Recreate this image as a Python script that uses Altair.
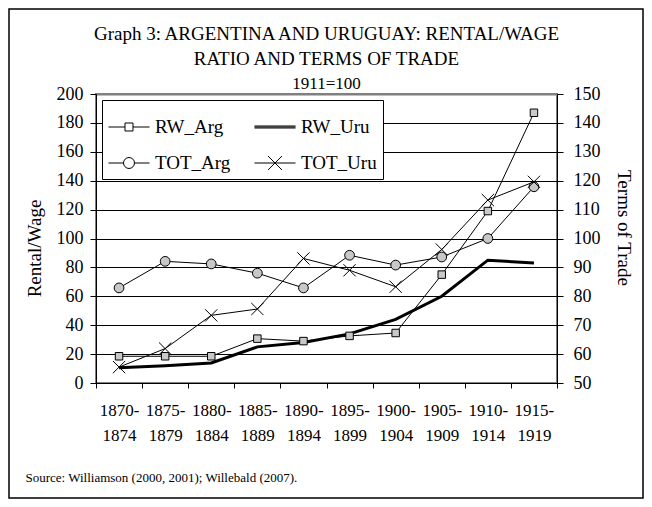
import altair as alt
import pandas as pd

# ---------------- data ----------------
periods = ["1870-1874", "1875-1879", "1880-1884", "1885-1889", "1890-1894",
           "1895-1899", "1900-1904", "1905-1909", "1910-1914", "1915-1919"]
rw_arg = [18.5, 18.5, 18.5, 30.7, 29.0, 32.6, 34.6, 75.0, 119.0, 187.0]
rw_uru = [10.6, 12.0, 13.9, 25.0, 28.0, 34.0, 44.0, 60.0, 85.0, 83.0]
tot_arg = [82.9, 92.1, 91.2, 88.0, 82.9, 94.2, 90.8, 93.6, 100.0, 117.9]
tot_uru = [55.5, 61.9, 73.4, 75.6, 93.1, 89.0, 83.3, 96.2, 113.3, 119.6]
series_names = ["RW_Arg", "RW_Uru", "TOT_Arg", "TOT_Uru"]
left_ticks = [0, 20, 40, 60, 80, 100, 120, 140, 160, 180, 200]
right_ticks = [50, 60, 70, 80, 90, 100, 110, 120, 130, 140, 150]

title_lines = ["Graph 3: ARGENTINA AND URUGUAY: RENTAL/WAGE", "RATIO AND TERMS OF TRADE"]
subtitle = "1911=100"
source_text = "Source:  Williamson (2000, 2001); Willebald (2007)."

FONT = "Liberation Serif, Times New Roman, serif"
BG = "#c8c8c8"

df = pd.DataFrame({
    "period": periods * 4,
    "series": sum([[s] * len(periods) for s in series_names], []),
    "value": rw_arg + rw_uru + tot_arg + tot_uru,
})

x_enc = alt.X(
    "period:N",
    sort=periods,
    scale=alt.Scale(type="band", domain=periods, paddingInner=0, paddingOuter=0),
    axis=alt.Axis(
        title=source_text,
        titleX=-71, titleY=94, titleAlign="left", titleBaseline="middle",
        titleFontSize=13, titleFontWeight="normal", titleFont=FONT, titleColor="black",
        labelAngle=0, labelFontSize=17, labelFont=FONT, labelColor="black",
        labelExpr="[slice(datum.label, 0, 5), slice(datum.label, 5)]",
        labelLineHeight=25, labelPadding=14, labelBaseline="top",
        tickBand="extent", tickSize=5, tickColor="black",
        domainColor="black", grid=False,
    ),
)

y_left = alt.Y(
    "value:Q",
    scale=alt.Scale(domain=[0, 200], nice=False, zero=False),
    axis=alt.Axis(
        title="Rental/Wage", values=left_ticks,
        titleX=-62, titleY=154, titleAngle=270, titleAlign="center", titleBaseline="middle",
        titleFontSize=19, titleFontWeight="normal", titleFont=FONT, titleColor="black",
        labelFontSize=18, labelFont=FONT, labelColor="black", labelPadding=7,
        tickSize=6, tickColor="black", domainColor="black",
        grid=True,
        gridColor=alt.condition("datum.value == 200", alt.value("#808080"), alt.value("black")),
        gridWidth=alt.condition("datum.value == 200", alt.value(2), alt.value(1)),
    ),
)

y_right = alt.Y(
    "value:Q",
    scale=alt.Scale(domain=[50, 150], nice=False, zero=False),
    axis=alt.Axis(
        orient="right", title="Terms of Trade", values=right_ticks,
        titleX=66, titleY=133.5, titleAngle=90, titleAlign="center", titleBaseline="middle",
        titleFontSize=19, titleFontWeight="normal", titleFont=FONT, titleColor="black",
        labelFontSize=18, labelFont=FONT, labelColor="black", labelPadding=10,
        tickSize=6, tickColor="black", domainColor="black", grid=False,
    ),
)

base = alt.Chart(df)

def sel(name):
    return base.transform_filter(alt.datum.series == name)

rw_uru_line = sel("RW_Uru").mark_line(color="black", strokeWidth=3).encode(x=x_enc, y=y_left)
rw_arg_line = sel("RW_Arg").mark_line(color="black", strokeWidth=1).encode(x=x_enc, y=y_left)
rw_arg_pts = sel("RW_Arg").mark_point(shape="square", size=56, filled=True, fill=BG,
                                      stroke="black", strokeWidth=1, opacity=1).encode(x=x_enc, y=y_left)
left = alt.layer(rw_uru_line, rw_arg_line, rw_arg_pts)

tot_arg_line = sel("TOT_Arg").mark_line(color="black", strokeWidth=1).encode(x=x_enc, y=y_right)
tot_arg_pts = sel("TOT_Arg").mark_point(shape="circle", size=95, filled=True, fill=BG,
                                        stroke="black", strokeWidth=1, opacity=1).encode(x=x_enc, y=y_right)
tot_uru_line = sel("TOT_Uru").mark_line(color="black", strokeWidth=1).encode(x=x_enc, y=y_right)
tot_uru_pts = sel("TOT_Uru").mark_point(shape="M-1,-1L1,1M1,-1L-1,1", size=150, filled=False,
                                        stroke="black", strokeWidth=1, opacity=1).encode(x=x_enc, y=y_right)
right = alt.layer(tot_arg_line, tot_arg_pts, tot_uru_line, tot_uru_pts)

# legend symbols: line + marker, normalised to [-1, 1] (1 unit = 20.5 px)
legend_paths = [
    "M-1,0L-0.195,0M0.195,0L1,0M-0.195,-0.195L0.195,-0.195L0.195,0.195L-0.195,0.195Z",
    "M-1,-0.049L1,-0.049M-1,0L1,0M-1,0.049L1,0.049",
    "M-1,0L-0.268,0M0.268,0L1,0M0.268,0A0.268,0.268,0,1,1,-0.268,0A0.268,0.268,0,1,1,0.268,0Z",
    "M-1,0L1,0M-0.34,-0.34L0.34,0.34M0.34,-0.34L-0.34,0.34",
]
legend_layer = alt.Chart(pd.DataFrame({"series": series_names})).mark_point(
    size=0, filled=False, opacity=1
).encode(
    shape=alt.Shape(
        "series:N",
        scale=alt.Scale(domain=series_names, range=legend_paths),
        legend=alt.Legend(
            title=None, orient="none", legendX=6, legendY=6, columns=2, direction="horizontal",
            fillColor="white", strokeColor="black", padding=6,
            symbolSize=1681, symbolStrokeColor="black", symbolStrokeWidth=1,
            symbolFillColor="white",
            labelFont=FONT, labelFontSize=19, labelColor="black", labelOffset=5,
            columnPadding=21, rowPadding=5,
        ),
    )
)

one = pd.DataFrame({"k": [0]})

frame = alt.Chart(one).mark_rect(
    filled=False, stroke="black", strokeWidth=1.5
).encode(
    x=alt.value(-87), x2=alt.value(547), y=alt.value(-85), y2=alt.value(404)
)

def title_text(txt, y, size):
    return alt.Chart(one).mark_text(
        text=txt, font=FONT, fontSize=size, color="black", align="center", baseline="alphabetic"
    ).encode(x=alt.value(230.5), y=alt.value(y))

titles = alt.layer(
    title_text(title_lines[0], -54, 19),
    title_text(title_lines[1], -29, 19),
    title_text(subtitle, -5, 17),
)

chart = alt.layer(frame, left, right, legend_layer, titles).resolve_scale(
    y="independent"
).properties(
    width=461,
    height=289,
    autosize=alt.AutoSizeParams(type="none"),
    padding={"left": 88, "top": 86, "right": 87, "bottom": 116},
).configure(
    font=FONT,
    background="white",
).configure_view(
    fill=BG, stroke="#808080", strokeWidth=2,
)

chart.save("out.html", embed_options={"renderer": "svg", "actions": False})
